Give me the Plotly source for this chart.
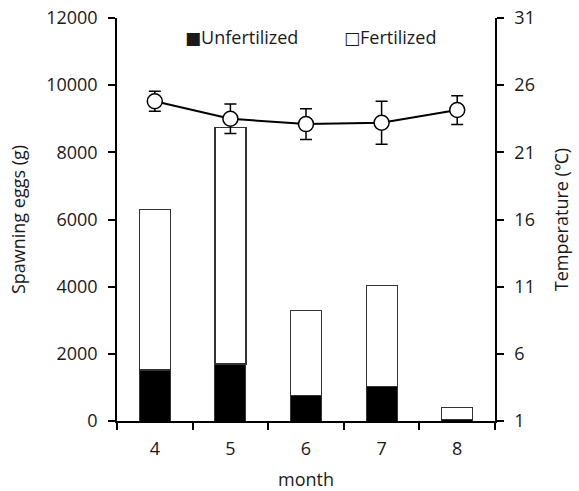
import plotly.graph_objects as go

months = ["4", "5", "6", "7", "8"]
unfertilized = [1520, 1700, 750, 1020, 50]
fertilized = [4780, 7050, 2540, 3010, 360]
temperature = [24.8, 23.5, 23.1, 23.2, 24.15]
temp_err = [0.75, 1.1, 1.15, 1.6, 1.07]
legend_labels = ["Unfertilized", "Fertilized"]
legend_marks = ["■", "□"]

FONT = "Open Sans"
FS = 18
TXT = "#1a1a1a"
fig = go.Figure()
fig.add_trace(go.Bar(
    x=months, y=unfertilized, name="Unfertilized",
    marker=dict(color="black", line=dict(color="#333333", width=1)),
    width=0.41, showlegend=False,
))
fig.add_trace(go.Bar(
    x=months, y=fertilized, name="Fertilized",
    marker=dict(color="white", line=dict(color="#333333", width=1.2)),
    width=0.41, showlegend=False,
))
fig.add_trace(go.Scatter(
    x=months, y=temperature, yaxis="y2", mode="lines+markers",
    name="Temperature",
    line=dict(color="black", width=2),
    marker=dict(symbol="circle", size=15, color="white", line=dict(color="black", width=1.5)),
    error_y=dict(type="data", array=temp_err, color="black", thickness=1.5, width=6),
    showlegend=False,
))

for mark, label, xpos in zip(legend_marks, legend_labels, [0.174, 0.594]):
    fig.add_annotation(
        text=f'<span style="font-family:DejaVu Sans;font-size:17px">{mark}</span>{label}',
        xref="paper", yref="paper", x=xpos, y=0.952, xanchor="left", yanchor="middle",
        showarrow=False, font=dict(family=FONT, size=FS, color=TXT))

fig.update_layout(
    width=579, height=491,
    margin=dict(l=117, r=84, t=18, b=70, autoexpand=False),
    barmode="stack",
    plot_bgcolor="white", paper_bgcolor="white",
    font=dict(family=FONT, size=FS, color=TXT),
    showlegend=False,
    xaxis=dict(
        type="category", tickson="boundaries", ticks="outside", ticklen=7,
        tickwidth=1.5, tickcolor="black", showline=True, linecolor="black",
        linewidth=1.5, showgrid=False, zeroline=False, automargin=False,
        tickfont=dict(size=FS), ticklabelstandoff=11,
        title=dict(text="month", font=dict(size=FS), standoff=21),
    ),
    yaxis=dict(
        range=[0, 12000], dtick=2000, tickformat="d", ticks="outside", ticklen=7,
        tickwidth=1.5, tickcolor="black", showline=True, linecolor="black",
        linewidth=1.5, showgrid=False, zeroline=False, automargin=False,
        tickfont=dict(size=FS), ticklabelstandoff=7,
        title=dict(text="Spawning eggs (g)", font=dict(size=FS), standoff=16),
    ),
    yaxis2=dict(
        overlaying="y", side="right", range=[1, 31], tick0=1, dtick=5,
        ticks="outside", ticklen=7, tickwidth=1.5, tickcolor="black",
        showline=True, linecolor="black", linewidth=1.5, showgrid=False,
        zeroline=False, automargin=False, tickfont=dict(size=FS),
        ticklabelstandoff=7,
        title=dict(text="Temperature (℃)", font=dict(size=FS), standoff=21),
    ),
)

fig.write_html("out.html", config={"displayModeBar": False},
               post_script="document.body.style.margin='0';")
